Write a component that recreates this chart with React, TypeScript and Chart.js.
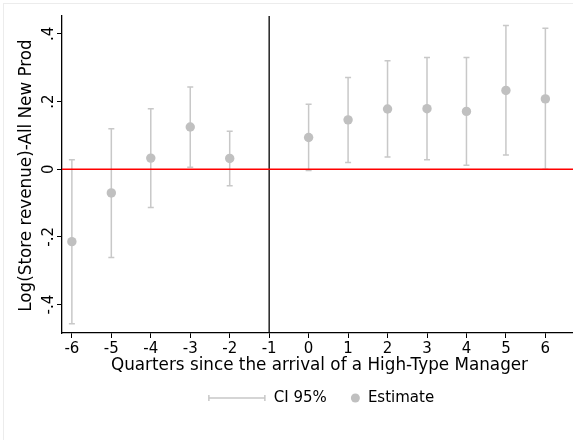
import React, { useEffect, useRef } from "react";
import { Chart, registerables } from "chart.js";

Chart.register(...registerables);

const quarters = [-6, -5, -4, -3, -2, 0, 1, 2, 3, 4, 5, 6];
const estimate = [-0.214, -0.07, 0.033, 0.125, 0.032, 0.094, 0.146, 0.178, 0.179, 0.171, 0.233, 0.208];
const ciLow = [-0.457, -0.261, -0.113, 0.006, -0.049, -0.004, 0.02, 0.036, 0.028, 0.012, 0.042, 0.0];
const ciHigh = [0.028, 0.12, 0.179, 0.243, 0.112, 0.192, 0.271, 0.321, 0.33, 0.33, 0.425, 0.417];
const xTicks = [-6, -5, -4, -3, -2, -1, 0, 1, 2, 3, 4, 5, 6];
const yTicks = [-0.4, -0.2, 0, 0.2, 0.4];
const eventQuarter = -1;
const xTitle = "Quarters since the arrival of a High-Type Manager";
const yTitle = "Log(Store revenue)-All New Prod";
const legendLabels = ["CI 95%", "Estimate"];

const FONT = "DejaVu Sans";
const CI_COLOR = "#c8c8c8";
const PT_COLOR = "#c0c0c0";

const fmt = (v: number) => {
  if (Math.abs(v) < 1e-9) return "0";
  const s = v.toFixed(1);
  return s.replace(/^(-?)0\./, "$1.");
};

const decorPlugin = {
  id: "decor",
  beforeDatasetsDraw(chart: any) {
    const { ctx, chartArea, scales } = chart;
    const xs = scales.x;
    const ys = scales.y;
    ctx.save();
    ctx.strokeStyle = "#000000";
    ctx.lineWidth = 1.3;
    const xv = xs.getPixelForValue(eventQuarter);
    ctx.beginPath();
    ctx.moveTo(xv, chartArea.top);
    ctx.lineTo(xv, chartArea.bottom);
    ctx.stroke();
    // error bars
    ctx.strokeStyle = CI_COLOR;
    ctx.lineWidth = 1.5;
    quarters.forEach((q, i) => {
      const x = xs.getPixelForValue(q);
      const yl = ys.getPixelForValue(ciLow[i]);
      const yh = ys.getPixelForValue(ciHigh[i]);
      ctx.beginPath();
      ctx.moveTo(x, yl);
      ctx.lineTo(x, yh);
      ctx.moveTo(x - 3, yl);
      ctx.lineTo(x + 3, yl);
      ctx.moveTo(x - 3, yh);
      ctx.lineTo(x + 3, yh);
      ctx.stroke();
    });
    ctx.restore();
  },
  afterDatasetsDraw(chart: any) {
    const { ctx, chartArea, scales } = chart;
    ctx.save();
    ctx.strokeStyle = "rgb(255,0,0)";
    ctx.lineWidth = 1.5;
    const y0 = scales.y.getPixelForValue(0);
    ctx.beginPath();
    ctx.moveTo(chartArea.left, y0);
    ctx.lineTo(chartArea.right, y0);
    ctx.stroke();
    ctx.restore();
  },
  afterDraw(chart: any) {
    const { ctx, chartArea } = chart;
    ctx.save();
    ctx.strokeStyle = "#ececec";
    ctx.lineWidth = 1;
    ctx.strokeRect(3.5, 3.5, 600, 500);
    ctx.fillStyle = "#000";
    ctx.textBaseline = "middle";
    ctx.textAlign = "center";
    const cx = (chartArea.left + chartArea.right) / 2;
    ctx.font = `16.8px "${FONT}"`;
    ctx.fillText(xTitle, cx + 2, 366);
    ctx.save();
    ctx.translate(27, (chartArea.top + chartArea.bottom) / 2 + 1);
    ctx.rotate(-Math.PI / 2);
    ctx.fillText(yTitle, 0, 0);
    ctx.restore();
    // legend
    ctx.font = `15px "${FONT}"`;
    const lineW = 56;
    const gap1 = 9;
    const gap2 = 24;
    const dotR = 4.5;
    const gap3 = 8;
    const w1 = ctx.measureText(legendLabels[0]).width;
    const w2 = ctx.measureText(legendLabels[1]).width;
    const total = lineW + gap1 + w1 + gap2 + dotR * 2 + gap3 + w2;
    let x = cx + 4 - total / 2;
    const ly = 398;
    ctx.strokeStyle = CI_COLOR;
    ctx.lineWidth = 1.5;
    ctx.beginPath();
    ctx.moveTo(x, ly);
    ctx.lineTo(x + lineW, ly);
    ctx.moveTo(x, ly - 3);
    ctx.lineTo(x, ly + 3);
    ctx.moveTo(x + lineW, ly - 3);
    ctx.lineTo(x + lineW, ly + 3);
    ctx.stroke();
    x += lineW + gap1;
    ctx.textAlign = "left";
    ctx.fillText(legendLabels[0], x, ly);
    x += w1 + gap2;
    ctx.fillStyle = PT_COLOR;
    ctx.beginPath();
    ctx.arc(x + dotR, ly, dotR, 0, Math.PI * 2);
    ctx.fill();
    x += dotR * 2 + gap3;
    ctx.fillStyle = "#000";
    ctx.fillText(legendLabels[1], x, ly);
    ctx.restore();
  },
};

export default function App() {
  const ref = useRef<HTMLCanvasElement | null>(null);
  useEffect(() => {
    if (!ref.current) return;
    const chart = new Chart(ref.current, {
      type: "scatter",
      data: {
        datasets: [
          {
            label: "Estimate",
            data: quarters.map((q, i) => ({ x: q, y: estimate[i] })),
            backgroundColor: PT_COLOR,
            borderColor: PT_COLOR,
            pointRadius: 4.7,
            pointBorderWidth: 0,
          },
        ],
      },
      options: {
        animation: false,
        responsive: false,
        devicePixelRatio: 1,
        layout: { autoPadding: false, padding: { top: 16, left: 0, right: 0, bottom: 0 } },
        plugins: { legend: { display: false }, tooltip: { enabled: false } },
        scales: {
          x: {
            type: "linear",
            min: -6.25,
            max: 6.7,
            afterBuildTicks: (s: any) => {
              s.ticks = xTicks.map((v) => ({ value: v }));
            },
            afterFit: (s: any) => {
              s.height = 107;
            },
            grid: { display: true, drawOnChartArea: false, drawTicks: true, tickLength: 5, color: "#000", lineWidth: 1 },
            border: { display: true, color: "#000", width: 1.3 },
            ticks: {
              color: "#000",
              font: { family: FONT, size: 15 },
              padding: 2,
              maxRotation: 0,
              callback: (v: any) => String(v),
            },
          },
          y: {
            type: "linear",
            min: -0.484,
            max: 0.453,
            afterBuildTicks: (s: any) => {
              s.ticks = yTicks.map((v) => ({ value: v }));
            },
            afterFit: (s: any) => {
              s.width = 62;
            },
            grid: { display: true, drawOnChartArea: false, drawTicks: true, tickLength: 5, color: "#000", lineWidth: 1 },
            border: { display: true, color: "#000", width: 1.3 },
            ticks: {
              color: "#000",
              font: { family: FONT, size: 15 },
              minRotation: 90,
              maxRotation: 90,
              crossAlign: "center",
              padding: -2,
              callback: (v: any) => fmt(Number(v)),
            },
          },
        },
      },
      plugins: [decorPlugin],
    });
    return () => chart.destroy();
  }, []);
  return (
    <div style={{ position: "absolute", left: 0, top: 0, width: 573, height: 440, background: "#fff" }}>
      <canvas ref={ref} width={573} height={440} />
    </div>
  );
}
